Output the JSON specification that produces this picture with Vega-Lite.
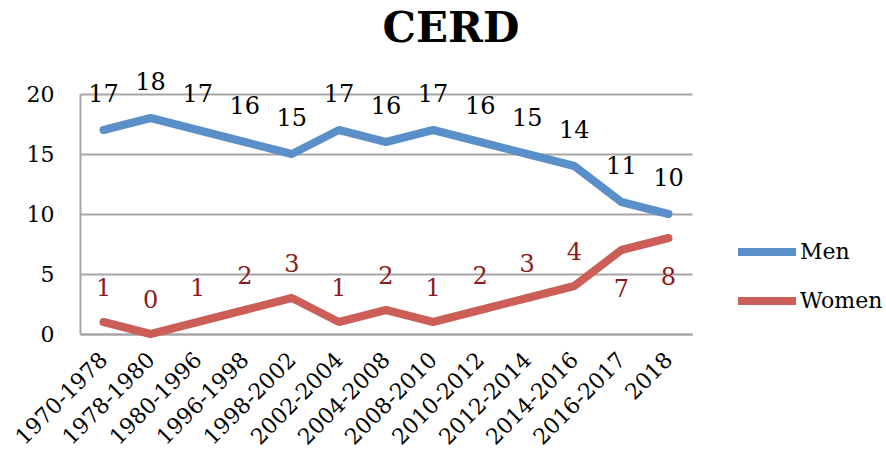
{
  "$schema": "https://vega.github.io/schema/vega-lite/v6.json",
  "autosize": "none",
  "width": 612,
  "height": 240,
  "padding": {"left": 80, "top": 94, "right": 194, "bottom": 125},
  "title": {"text": "CERD", "font": "DejaVu Serif", "fontSize": 42, "fontWeight": "bold", "color": "black", "anchor": "middle", "dx": 65, "offset": 20},
  "config": {"view": {"stroke": null}, "font": "DejaVu Serif"},
  "data": {"values": [
    {"period": "1970-1978", "series": "Men", "value": 17},
    {"period": "1978-1980", "series": "Men", "value": 18},
    {"period": "1980-1996", "series": "Men", "value": 17},
    {"period": "1996-1998", "series": "Men", "value": 16},
    {"period": "1998-2002", "series": "Men", "value": 15},
    {"period": "2002-2004", "series": "Men", "value": 17},
    {"period": "2004-2008", "series": "Men", "value": 16},
    {"period": "2008-2010", "series": "Men", "value": 17},
    {"period": "2010-2012", "series": "Men", "value": 16},
    {"period": "2012-2014", "series": "Men", "value": 15},
    {"period": "2014-2016", "series": "Men", "value": 14},
    {"period": "2016-2017", "series": "Men", "value": 11},
    {"period": "2018", "series": "Men", "value": 10},
    {"period": "1970-1978", "series": "Women", "value": 1},
    {"period": "1978-1980", "series": "Women", "value": 0},
    {"period": "1980-1996", "series": "Women", "value": 1},
    {"period": "1996-1998", "series": "Women", "value": 2},
    {"period": "1998-2002", "series": "Women", "value": 3},
    {"period": "2002-2004", "series": "Women", "value": 1},
    {"period": "2004-2008", "series": "Women", "value": 2},
    {"period": "2008-2010", "series": "Women", "value": 1},
    {"period": "2010-2012", "series": "Women", "value": 2},
    {"period": "2012-2014", "series": "Women", "value": 3},
    {"period": "2014-2016", "series": "Women", "value": 4},
    {"period": "2016-2017", "series": "Women", "value": 7},
    {"period": "2018", "series": "Women", "value": 8}
  ]},
  "encoding": {
    "x": {
      "field": "period", "type": "ordinal",
      "sort": ["1970-1978","1978-1980","1980-1996","1996-1998","1998-2002","2002-2004","2004-2008","2008-2010","2010-2012","2012-2014","2014-2016","2016-2017","2018"],
      "scale": {"type": "point", "padding": 0.5},
      "axis": {"title": null, "labelAngle": -45, "labelAlign": "right", "labelBaseline": "middle", "labelPadding": 22, "labelFont": "DejaVu Serif", "labelFontSize": 22, "labelColor": "black", "ticks": false, "domainColor": "#A6A6A6", "domainWidth": 2, "grid": false, "labelOverlap": false}
    },
    "y": {
      "field": "value", "type": "quantitative",
      "scale": {"domain": [0, 20]},
      "axis": {"title": null, "values": [0, 5, 10, 15, 20], "labelPadding": 26, "labelFont": "DejaVu Serif", "labelFontSize": 22, "labelColor": "black", "ticks": false, "domainColor": "#A6A6A6", "domainWidth": 2, "gridColor": "#A6A6A6", "gridWidth": 2}
    }
  },
  "layer": [
    {
      "mark": {"type": "line", "strokeWidth": 8, "strokeCap": "round", "strokeJoin": "round"},
      "encoding": {
        "color": {
          "field": "series", "type": "nominal",
          "scale": {"domain": ["Men", "Women"], "range": ["#5B8FC9", "#CB5F57"]},
          "legend": {"title": null, "orient": "none", "legendX": 654, "legendY": 125, "symbolType": "stroke", "symbolSize": 3364, "symbolStrokeWidth": 8, "labelFont": "DejaVu Serif", "labelFontSize": 22, "labelColor": "black", "labelOffset": 0, "rowPadding": -6}
        }
      }
    },
    {
      "transform": [{"filter": "datum.series == 'Men'"}],
      "mark": {"type": "text", "dy": -35, "fontSize": 24, "font": "DejaVu Serif", "color": "black", "baseline": "middle"},
      "encoding": {"text": {"field": "value", "type": "quantitative"}}
    },
    {
      "transform": [{"filter": "datum.series == 'Women' && datum.period != '2016-2017' && datum.period != '2018'"}],
      "mark": {"type": "text", "dy": -33, "fontSize": 24, "font": "DejaVu Serif", "color": "#8B1A1A", "baseline": "middle"},
      "encoding": {"text": {"field": "value", "type": "quantitative"}}
    },
    {
      "transform": [{"filter": "datum.series == 'Women' && (datum.period == '2016-2017' || datum.period == '2018')"}],
      "mark": {"type": "text", "dy": 40, "fontSize": 24, "font": "DejaVu Serif", "color": "#8B1A1A", "baseline": "middle"},
      "encoding": {"text": {"field": "value", "type": "quantitative"}}
    }
  ]
}
